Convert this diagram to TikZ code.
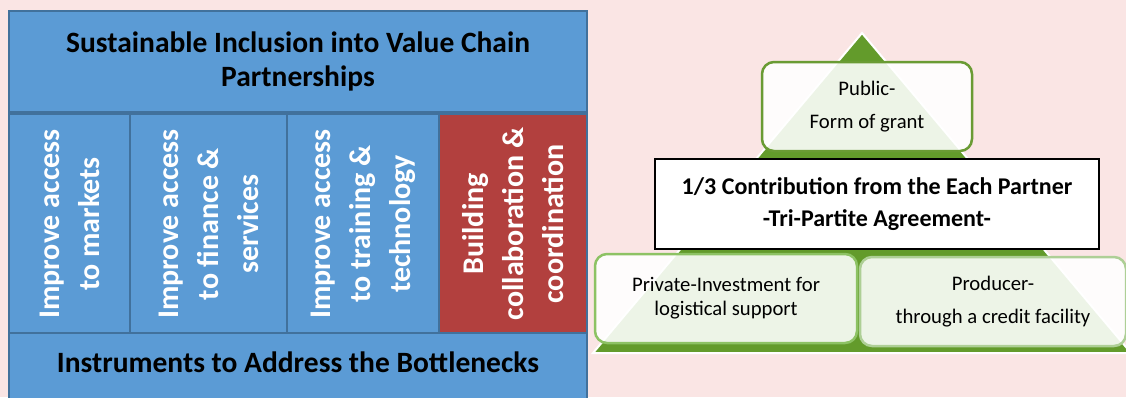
\documentclass[tikz,border=0pt]{standalone}
\usepackage{fontspec}
\setmainfont{Carlito}
\usepackage{tikz}
\usetikzlibrary{positioning}
\definecolor{PinkBg}{RGB}{250,229,228}
\definecolor{BlueFill}{RGB}{91,155,213}
\definecolor{BlueEdge}{RGB}{65,113,156}
\definecolor{RedFill}{RGB}{178,64,62}
\definecolor{TriGreen}{RGB}{99,155,43}
\definecolor{EdgeDark}{RGB}{106,155,52}
\definecolor{EdgeMid}{RGB}{141,194,100}
\definecolor{EdgeLight}{RGB}{174,207,150}

\begin{document}
\begin{tikzpicture}[x=1pt,y=-1pt,
    blockbox/.style={draw=BlueEdge, line width=2.5pt, fill=BlueFill, inner sep=0pt, align=center,
      font=\fontsize{29.5}{34}\selectfont\bfseries},
    colbox/.style={blockbox, rotate=90, minimum width=221pt, text=white,
      font=\fontsize{30}{40}\selectfont\bfseries},
    partbox/.style={rounded corners=12pt, line width=2.5pt, fill=white, fill opacity=0.89,
      text opacity=1, minimum height=89pt, inner sep=0pt, align=center},
  ]
  \useasboundingbox (0,0) rectangle (1126,397);
  \fill[PinkBg] (0,0) rectangle (1126,397);

  % Value chain block
  \node[blockbox, minimum width=578pt, minimum height=101pt] (incl) at (298,61.5)
    {Sustainable Inclusion into Value Chain\\Partnerships};
  \node[colbox, minimum height=121pt] (markets) at (69.5,224) {Improve access\\to markets};
  \node[colbox, minimum height=157pt] (finance) at (208.5,224) {Improve access\\to finance \&\\services};
  \node[colbox, minimum height=152pt] (training) at (363,224) {Improve access\\to training \&\\technology};
  \node[colbox, minimum height=148pt, fill=RedFill] (collab) at (513,224)
    {Building\\collaboration \&\\coordination};
  \node[blockbox, minimum width=578pt, minimum height=76pt] (instr) at (298,371) {};
  \node[font=\fontsize{29.5}{34}\selectfont\bfseries] (instrtext) at (298,362)
    {Instruments to Address the Bottlenecks};

  % Pyramid
  \draw[white, line width=2pt, fill=TriGreen] (862,33) -- (593,353) -- (1131,353) -- cycle;
  \node[partbox, draw=EdgeDark, minimum width=210pt, font=\fontsize{20.7}{33}\selectfont] (public) at (867,106.5)
    {Public-\\Form of grant};
  \node[draw=black, line width=1.3pt, fill=white, minimum width=444pt, minimum height=90pt, align=center,
    font=\fontsize{24}{32}\selectfont\bfseries] (tripart) at (877,204)
    {1/3 Contribution from the Each Partner\\-Tri-Partite Agreement-};
  \node[partbox, draw=EdgeMid, minimum width=262pt, font=\fontsize{20.7}{24}\selectfont] (private) at (726,298.5)
    {Private-Investment for\\logistical support};
  \node[partbox, draw=EdgeLight, minimum width=266pt, font=\fontsize{20.7}{33}\selectfont] (producer) at (993,301.5)
    {Producer-\\through a credit facility};
\end{tikzpicture}
\end{document}
